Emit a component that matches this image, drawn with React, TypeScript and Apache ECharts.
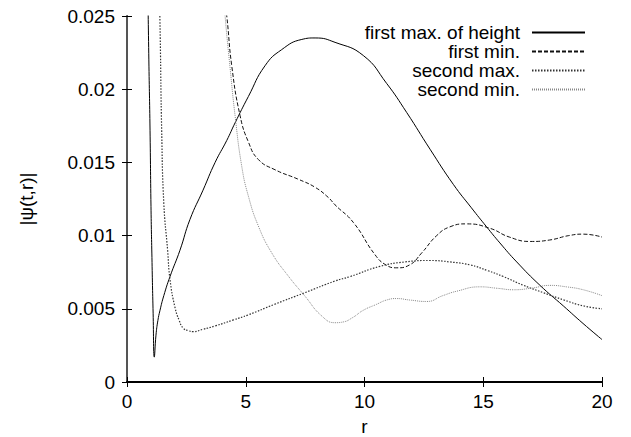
import React, { useEffect, useRef } from "react";
import * as echarts from "echarts";

const xTicks = [0, 5, 10, 15, 20];
const yTicks = [0, 0.005, 0.01, 0.015, 0.02, 0.025];

const seriesNames = ["first max. of height", "first min.", "second max.", "second min."];

const firstMaxR = [0.88, 0.92, 0.97, 1.01, 1.05, 1.1, 1.15, 1.22, 1.3, 1.39, 1.55, 1.81, 2.23, 2.65, 3.2, 3.71, 4.2, 4.55, 5.11, 5.81, 6.51, 7.36, 7.92, 8.76, 9.95, 10.93, 11.78, 12.76, 13.74, 14.5, 15.14, 15.7, 16.41, 17.39, 18.37, 19.2, 20];
const firstMaxV = [0.0265, 0.022, 0.0172, 0.012, 0.0085, 0.0047, 0.0017, 0.0032, 0.0042, 0.0049, 0.0059, 0.0072, 0.009, 0.0111, 0.0131, 0.015, 0.0165, 0.0177, 0.0195, 0.0216, 0.0227, 0.0234, 0.0235, 0.0232, 0.0223, 0.0204, 0.0184, 0.0159, 0.0135, 0.0119, 0.0106, 0.0095, 0.0082, 0.0066, 0.0052, 0.004, 0.0029];

const firstMinR = [4.1, 4.2, 4.41, 4.76, 5.11, 5.53, 6.23, 7.21, 7.92, 8.48, 8.76, 9.53, 10.44, 10.9, 11.36, 11.9, 12.4, 13.04, 13.6, 14.3, 15.28, 16.1, 16.97, 17.8, 18.6, 19.21, 20];
const firstMinV = [0.026, 0.025, 0.0216, 0.0182, 0.0164, 0.0152, 0.0145, 0.01385, 0.0133, 0.0126, 0.0121, 0.0109, 0.0087, 0.008, 0.0078, 0.008, 0.0088, 0.01, 0.0106, 0.0108, 0.0105, 0.0099, 0.0096, 0.0097, 0.01, 0.0101, 0.0099];

const secondMaxR = [1.37, 1.4, 1.46, 1.55, 1.71, 1.81, 2.02, 2.2, 2.37, 2.6, 2.79, 3.2, 3.71, 4.48, 5.1, 6.2, 7.49, 8.76, 9.39, 10.65, 11.7, 12.76, 13.6, 14.44, 15.2, 15.85, 16.7, 17.53, 18.4, 19.21, 20];
const secondMaxV = [0.026, 0.0235, 0.0172, 0.0122, 0.009, 0.007, 0.0051, 0.0042, 0.00367, 0.0035, 0.00344, 0.0036, 0.00383, 0.00424, 0.00458, 0.0053, 0.0061, 0.0069, 0.0072, 0.0079, 0.0082, 0.0083, 0.0082, 0.008, 0.0076, 0.0072, 0.0066, 0.0061, 0.0056, 0.0052, 0.005];

const secondMinR = [4.1, 4.13, 4.35, 4.55, 4.83, 5.11, 5.53, 6.09, 6.79, 7.49, 8.2, 8.76, 9.1, 9.5, 9.95, 10.5, 10.93, 11.36, 11.9, 12.62, 13.3, 13.88, 14.86, 15.6, 16.27, 17.0, 17.81, 18.5, 19.21, 20];
const secondMinV = [0.026, 0.025, 0.0213, 0.0182, 0.01475, 0.0127, 0.01066, 0.00883, 0.00724, 0.00587, 0.00451, 0.00405, 0.0041, 0.0044, 0.0049, 0.0053, 0.0056, 0.0057, 0.0056, 0.0055, 0.0059, 0.0062, 0.0065, 0.0064, 0.0063, 0.0064, 0.0066, 0.0065, 0.0063, 0.0059];

const FONT = "'Liberation Sans', Arial, Helvetica, sans-serif";

const zip = (r: number[], v: number[]) => r.map((x, i) => [x, v[i]]);

export default function App() {
  const ref = useRef<HTMLDivElement>(null);
  useEffect(() => {
    if (!ref.current) return;
    const chart = echarts.init(ref.current, undefined, { renderer: "svg" });
    const lineSeries = (name: string, data: number[][], color: string, type: any, width: number) => ({
      name,
      type: "line",
      data,
      showSymbol: false,
      symbol: "none",
      smooth: 0.5,
      clip: true,
      lineStyle: { color, width, type },
      itemStyle: { color },
    });
    chart.setOption({
      animation: false,
      backgroundColor: "#fff",
      grid: { left: 127, right: 29, top: 16, bottom: 55, containLabel: false, outerBoundsMode: "none" },
      legend: {
        orient: "vertical",
        align: "right",
        right: 45,
        top: 23,
        padding: 0,
        itemWidth: 53,
        itemHeight: 12,
        itemGap: 0,
        data: seriesNames,
        itemStyle: { color: "transparent", borderWidth: 0, opacity: 0 },
        textStyle: { fontFamily: FONT, fontSize: 19, color: "#000", lineHeight: 19, padding: [0, 7, 0, 0] },
      },
      xAxis: [
        {
          type: "value",
          min: xTicks[0],
          max: xTicks[xTicks.length - 1],
          interval: 5,
          name: "r",
          nameLocation: "middle",
          nameGap: 35,
          nameTextStyle: { fontFamily: FONT, fontSize: 19, lineHeight: 19, color: "#000" },
          axisLine: { show: true, lineStyle: { color: "#000", width: 1 } },
          axisTick: { show: true, inside: true, length: 5, lineStyle: { color: "#000" } },
          axisLabel: { fontFamily: FONT, fontSize: 19, color: "#000", margin: 10 },
          splitLine: { show: false },
        },
        {
          type: "value",
          position: "top",
          min: xTicks[0],
          max: xTicks[xTicks.length - 1],
          interval: 5,
          axisLine: { show: true, lineStyle: { color: "#000", width: 2 } },
          axisTick: { show: true, inside: true, length: 5, lineStyle: { color: "#000" } },
          axisLabel: { show: false },
          splitLine: { show: false },
        },
      ],
      yAxis: [
        {
          type: "value",
          min: yTicks[0],
          max: yTicks[yTicks.length - 1],
          interval: 0.005,
          name: "|ψ(t,r)|",
          nameLocation: "middle",
          nameGap: 91,
          nameTextStyle: { fontFamily: FONT, fontSize: 19, color: "#000" },
          axisLine: { show: true, lineStyle: { color: "#000", width: 1 } },
          axisTick: { show: true, inside: true, length: 5, lineStyle: { color: "#000" } },
          axisLabel: {
            fontFamily: FONT,
            fontSize: 19,
            color: "#000",
            margin: 12,
            formatter: (v: number) => String(+v.toFixed(3)),
          },
          splitLine: { show: false },
        },
        {
          type: "value",
          position: "right",
          min: yTicks[0],
          max: yTicks[yTicks.length - 1],
          interval: 0.005,
          axisLine: { show: true, lineStyle: { color: "#555", width: 2 } },
          axisTick: { show: true, inside: true, length: 5, lineStyle: { color: "#000" } },
          axisLabel: { show: false },
          splitLine: { show: false },
        },
      ],
      series: [
        lineSeries(seriesNames[0], zip(firstMaxR, firstMaxV), "#000", "solid", 1),
        lineSeries(seriesNames[1], zip(firstMinR, firstMinV), "#111", [4, 2], 1),
        lineSeries(seriesNames[2], zip(secondMaxR, secondMaxV), "#333", [1.5, 1.5], 1.2),
        lineSeries(seriesNames[3], zip(secondMinR, secondMinV), "#888", [1, 1], 1),
      ],
    });
    return () => chart.dispose();
  }, []);
  return <div ref={ref} style={{ width: 631, height: 437, position: "absolute", left: 0, top: 0 }} />;
}
